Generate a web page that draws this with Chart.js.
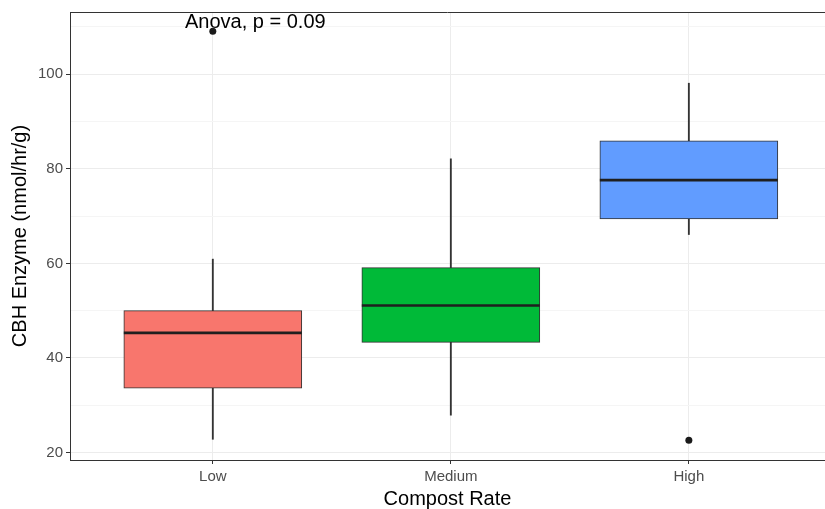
<!DOCTYPE html>
<html>
<head>
<meta charset="utf-8">
<script src="https://cdn.jsdelivr.net/npm/chart.js@4"></script>
<style>
  body { margin: 0; background: #fff; }
  canvas { display: block; }
</style>
</head>
<body>
<canvas id="chart" width="825" height="509"></canvas>
<script>
const categories = ['Low', 'Medium', 'High'];
const boxColors  = ['#F8766D', '#00BA38', '#619CFF'];

// box stats
const whiskerLow  = [22.8, 27.9, 66.1];
const q1          = [33.6, 43.3, 69.4];
const median      = [45.3, 51.1, 77.6];
const q3          = [50.0, 59.1, 85.9];
const whiskerHigh = [60.9, 82.1, 98.1];

const outliers = [
  { x: 1, y: 109.1 },
  { x: 3, y: 22.6 },
];

const yMajor = [20, 40, 60, 80, 100];
const yMinor = [30, 50, 70, 90, 110];

const annotation = { text: 'Anova, p = 0.09', x: 0.883, y: 111.0 };

const FONT = '"Liberation Sans", Arial, sans-serif';

const panelTop = {
  id: 'panelTop',
  afterDraw(chart) {
    const { ctx, chartArea, scales } = chart;
    ctx.save();
    ctx.strokeStyle = '#333';
    ctx.lineWidth = 1;
    ctx.beginPath();
    ctx.moveTo(chartArea.left, chartArea.top + 0.5);
    ctx.lineTo(chartArea.right, chartArea.top + 0.5);
    ctx.stroke();

    ctx.fillStyle = '#000';
    ctx.font = '20px ' + FONT;
    ctx.textAlign = 'left';
    ctx.textBaseline = 'middle';
    ctx.fillText(annotation.text,
      scales.x.getPixelForValue(annotation.x),
      scales.y.getPixelForValue(annotation.y));
    ctx.restore();
  },
};

const xs = categories.map((c, i) => i + 1);

new Chart(document.getElementById('chart'), {
  type: 'bar',
  data: {
    datasets: [
      {
        type: 'scatter',
        data: outliers,
        pointRadius: 3.5,
        pointBackgroundColor: '#1a1a1a',
        pointBorderWidth: 0,
        order: 0,
      },
      {
        type: 'scatter',
        data: xs.map((x, i) => ({ x, y: median[i] })),
        pointStyle: 'line',
        pointRadius: 89,
        borderColor: '#1f1f1f',
        borderWidth: 2.6,
        order: 0,
      },
      {
        data: xs.map((x, i) => ({ x, y: [q1[i], q3[i]] })),
        backgroundColor: boxColors,
        borderColor: '#333',
        borderWidth: 1,
        borderSkipped: false,
        barThickness: 178,
        grouped: false,
        order: 1,
      },
      {
        data: xs.map((x, i) => ({ x, y: [whiskerLow[i], whiskerHigh[i]] })),
        backgroundColor: '#333',
        barThickness: 1.2,
        grouped: false,
        order: 2,
      },
    ],
  },
  options: {
    responsive: false,
    animation: false,
    events: [],
    layout: { autoPadding: false, padding: { top: 10, right: 0, left: 0, bottom: 0 } },
    plugins: { legend: { display: false }, tooltip: { enabled: false } },
    scales: {
      x: {
        type: 'linear',
        min: 0.4,
        max: 3.572,
        offset: false,
        afterBuildTicks: s => { s.ticks = xs.map(v => ({ value: v })); },
        afterFit: s => { s.height = 49; },
        ticks: {
          callback: v => categories[v - 1],
          color: '#4D4D4D',
          font: { family: FONT, size: 15 },
          padding: 4,
          maxRotation: 0,
        },
        grid: { offset: false, color: '#ececec', lineWidth: 1, tickLength: 4, tickColor: '#333' },
        border: { color: '#333', width: 1 },
        title: {
          display: true,
          text: 'Compost Rate',
          color: '#000',
          font: { family: FONT, size: 20, lineHeight: 1 },
          padding: { top: 0, bottom: 0 },
        },
      },
      y: {
        min: 18.42,
        max: 113.16,
        afterBuildTicks: s => {
          s.ticks = [...yMajor, ...yMinor].sort((a, b) => a - b).map(v => ({ value: v }));
        },
        afterFit: s => { s.width = 70; },
        ticks: {
          callback: v => (yMajor.includes(v) ? v : ''),
          color: '#4D4D4D',
          font: { family: FONT, size: 15 },
          padding: 3,
        },
        grid: {
          color: c => (c.tick && yMajor.includes(c.tick.value) ? '#ececec' : '#f5f5f5'),
          lineWidth: 1,
          tickLength: 4,
          tickColor: c => (c.tick && yMajor.includes(c.tick.value) ? '#333' : 'rgba(0,0,0,0)'),
        },
        border: { color: '#333', width: 1 },
        title: {
          display: true,
          text: 'CBH Enzyme (nmol/hr/g)',
          color: '#000',
          font: { family: FONT, size: 20, lineHeight: 1 },
          padding: { top: 10, bottom: 0 },
        },
      },
    },
  },
  plugins: [panelTop],
});
</script>
</body>
</html>
